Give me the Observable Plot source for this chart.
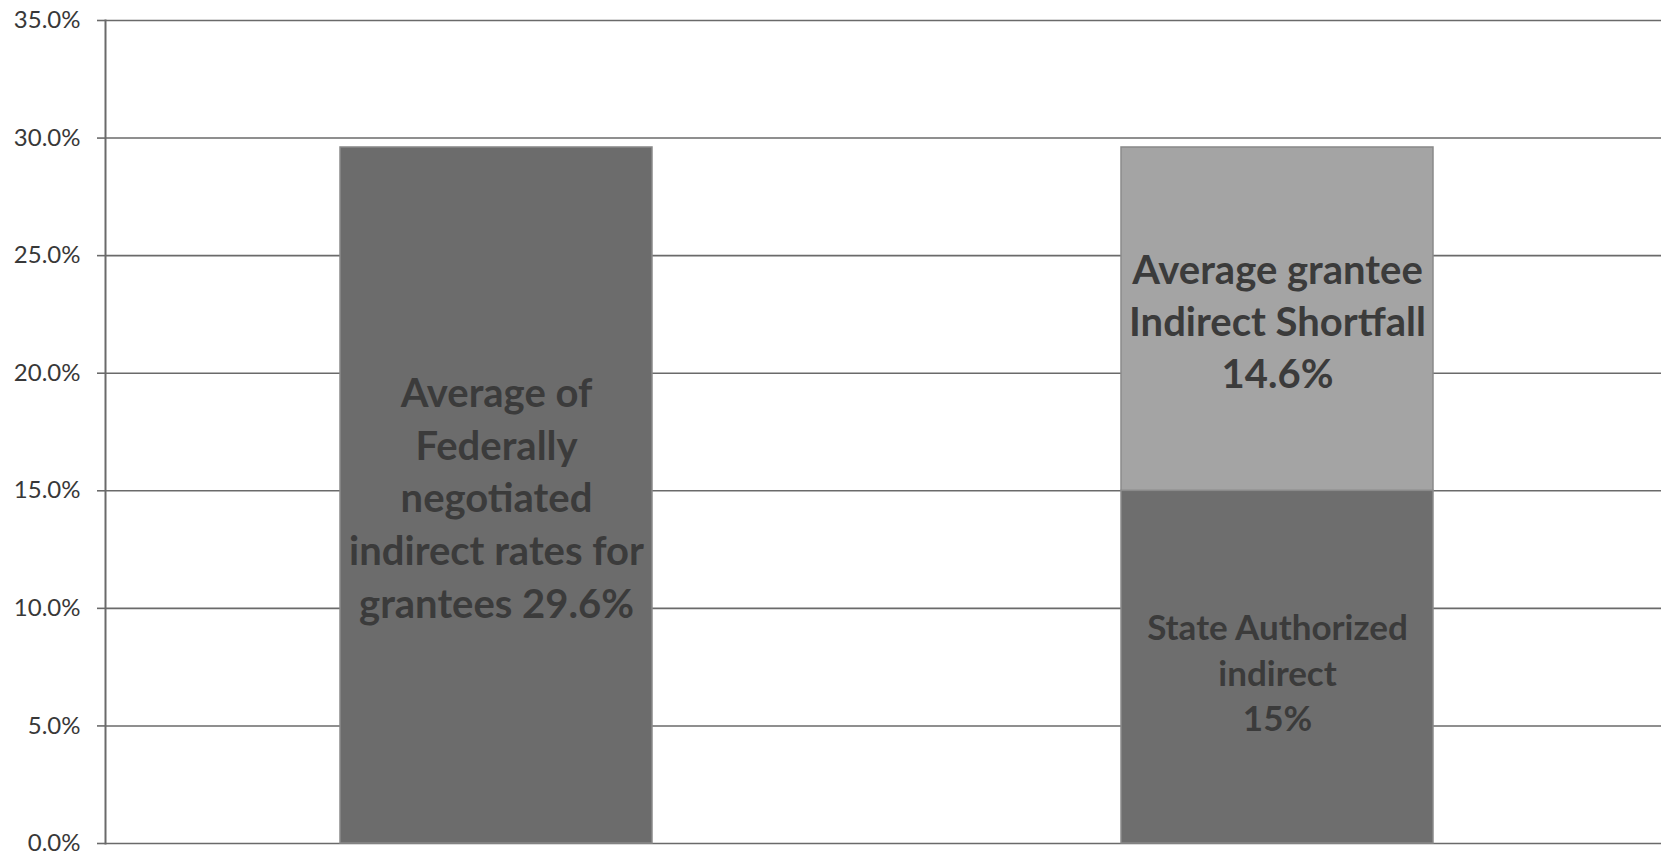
<!DOCTYPE html>
<html>
<head>
<meta charset="utf-8">
<script src="https://cdn.jsdelivr.net/npm/d3@7"></script>
<script src="https://cdn.jsdelivr.net/npm/@observablehq/plot@0.6"></script>
<style>
  html, body { margin: 0; padding: 0; background: #ffffff; overflow: hidden; }
  #chart svg { display: block; }
</style>
</head>
<body>
<div id="chart"></div>
<script>
// ---- data ----
const categories = ["Federally negotiated", "State authorized"];
const segmentNames = ["Federal average", "State authorized", "Shortfall"];
const segmentCategory = ["Federally negotiated", "State authorized", "State authorized"];
const segmentValues = [29.6, 15, 14.6];
const segmentLabels = [
  "Average of\nFederally\nnegotiated\nindirect rates for\ngrantees 29.6%",
  "State Authorized\nindirect\n15%",
  "Average grantee\nIndirect Shortfall\n14.6%"
];
const segmentColors = ["#6c6c6c", "#6e6e6e", "#a4a4a4"];
const labelSizes = [40, 35, 40];
const labelLineHeights = [1.32, 1.3, 1.3];
const labelShift = [0, 4, 0];
const yTicks = [0, 5, 10, 15, 20, 25, 30, 35];

const rows = segmentNames.map((name, i) => ({
  name,
  category: segmentCategory[i],
  value: segmentValues[i],
  label: segmentLabels[i],
  size: labelSizes[i]
}));

const textMarks = rows.map((r, i) =>
  Plot.text(rows, Plot.stackY({
    x: "category",
    y: "value",
    text: (d, j) => (j === i ? d.label : ""),
    fontSize: labelSizes[i],
    fontWeight: "bold",
    fill: "#3b3b3b",
    lineHeight: labelLineHeights[i],
    dy: labelShift[i],
    textAnchor: "middle"
  }))
);

const chart = Plot.plot({
  width: 1661,
  height: 852,
  marginLeft: 105,
  marginRight: 0,
  marginTop: 20,
  marginBottom: 9,
  style: { fontFamily: "Lato, 'Open Sans', sans-serif", background: "#ffffff", overflow: "visible" },
  x: { domain: categories, paddingInner: 0.6, paddingOuter: 0.296, align: 0.508, axis: null },
  y: { domain: [0, 35] },
  color: { domain: segmentNames, range: segmentColors },
  marks: [
    Plot.ruleY(yTicks, { stroke: "#6a6a6a", strokeWidth: 1.6 }),
    Plot.axisY({
      ticks: yTicks,
      tickFormat: d => d.toFixed(1) + "%",
      tickSize: 8,
      tickPadding: 17,
      fontSize: 24,
      stroke: "#6a6a6a",
      strokeWidth: 1.6,
      color: "#383838",
      label: null
    }),
    Plot.frame({ anchor: "left", stroke: "#6a6a6a", strokeWidth: 2 }),
    Plot.barY(rows, Plot.stackY({
      x: "category",
      y: "value",
      fill: "name",
      stroke: "#8a8a8a",
      strokeWidth: 1.5
    })),
    ...textMarks
  ]
});

document.getElementById("chart").appendChild(chart);
</script>
</body>
</html>
